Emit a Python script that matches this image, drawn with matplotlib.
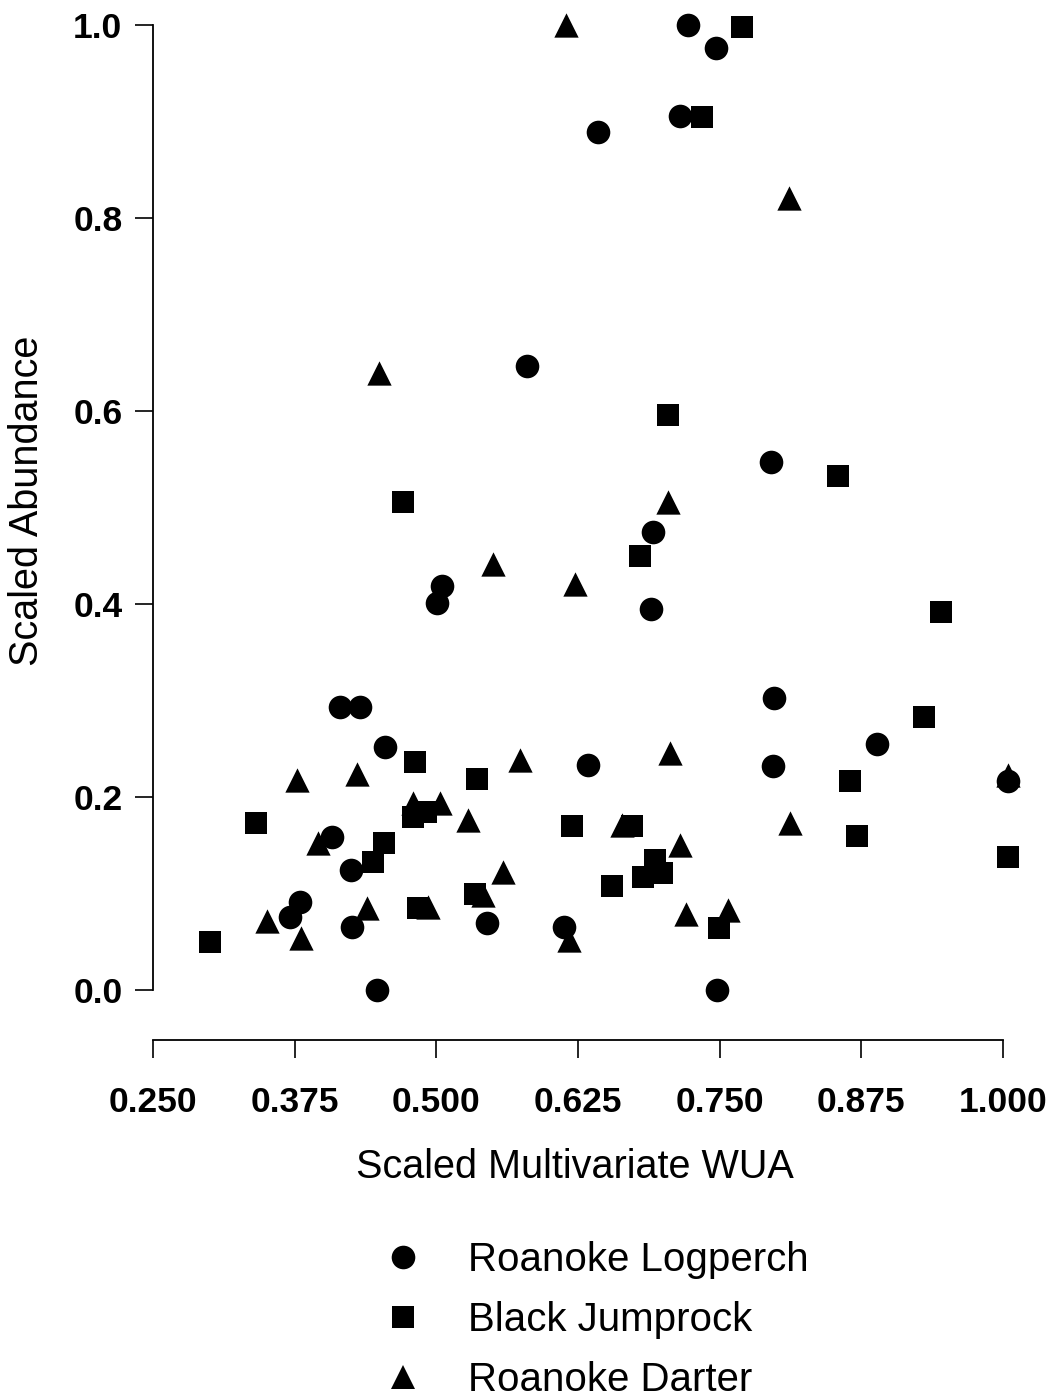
import matplotlib
matplotlib.use("Agg")
import matplotlib.pyplot as plt
from matplotlib.lines import Line2D

plt.rcParams['font.family'] = ['Liberation Sans', 'DejaVu Sans']

# Roanoke Logperch
logperch_x = [0.722, 0.747, 0.643, 0.715, 0.580, 0.795, 0.691, 0.689, 0.505, 0.501,
              0.415, 0.433, 0.455, 0.798, 0.797, 0.889, 0.634, 1.004, 0.408, 0.425,
              0.380, 0.371, 0.426, 0.545, 0.613, 0.448, 0.748]
logperch_y = [1.000, 0.976, 0.889, 0.906, 0.647, 0.547, 0.475, 0.395, 0.419, 0.401,
              0.293, 0.293, 0.252, 0.303, 0.232, 0.255, 0.233, 0.217, 0.159, 0.124,
              0.091, 0.076, 0.065, 0.069, 0.065, 0.000, 0.000]

# Black Jumprock
jumprock_x = [0.770, 0.734, 0.704, 0.854, 0.471, 0.680, 0.945, 0.930, 0.865, 0.871,
              1.004, 0.481, 0.536, 0.341, 0.620, 0.673, 0.454, 0.444, 0.479, 0.491,
              0.693, 0.682, 0.699, 0.655, 0.534, 0.484, 0.749, 0.300]
jumprock_y = [0.998, 0.905, 0.596, 0.533, 0.506, 0.450, 0.392, 0.283, 0.217, 0.160,
              0.138, 0.236, 0.219, 0.173, 0.170, 0.170, 0.152, 0.133, 0.179, 0.184,
              0.135, 0.117, 0.121, 0.108, 0.099, 0.085, 0.064, 0.050]

# Roanoke Darter
darter_x = [0.614, 0.811, 0.449, 0.704, 0.550, 0.622, 0.706, 0.574, 0.377, 0.430,
            1.004, 0.503, 0.479, 0.528, 0.664, 0.812, 0.715, 0.396, 0.559, 0.439,
            0.493, 0.351, 0.720, 0.757, 0.381, 0.617, 0.541]
darter_y = [1.000, 0.821, 0.639, 0.506, 0.441, 0.421, 0.246, 0.238, 0.218, 0.224,
            0.223, 0.194, 0.194, 0.176, 0.171, 0.173, 0.150, 0.152, 0.122, 0.085,
            0.086, 0.072, 0.079, 0.083, 0.054, 0.052, 0.098]

x_ticks = [0.250, 0.375, 0.500, 0.625, 0.750, 0.875, 1.000]
x_ticklabels = ["0.250", "0.375", "0.500", "0.625", "0.750", "0.875", "1.000"]
y_ticks = [0.0, 0.2, 0.4, 0.6, 0.8, 1.0]
y_ticklabels = ["0.0", "0.2", "0.4", "0.6", "0.8", "1.0"]

series_names = ["Roanoke Logperch", "Black Jumprock", "Roanoke Darter"]

W, H = 1057, 1399
fig = plt.figure(figsize=(W / 100, H / 100), dpi=100)
ax_left, ax_right = 153, 1048
ax_top, ax_bottom = 25, 990
ax = fig.add_axes([ax_left / W, 1 - ax_bottom / H, (ax_right - ax_left) / W, (ax_bottom - ax_top) / H])

ms_c, ms_s, ms_t = 17, 15.5, 17.5
ax.scatter(logperch_x, logperch_y, marker='o', s=ms_c ** 2, c='black', linewidths=0, clip_on=False, zorder=3)
ax.scatter(jumprock_x, jumprock_y, marker='s', s=ms_s ** 2, c='black', linewidths=0, clip_on=False, zorder=3)
ax.scatter(darter_x, darter_y, marker='^', s=ms_t ** 2, c='black', linewidths=0, clip_on=False, zorder=3)

ax.set_xlim(0.25, 0.25 + (ax_right - ax_left) / 1133.3)
ax.set_ylim(0.0, 1.0)

for s in ['top', 'right']:
    ax.spines[s].set_visible(False)
ax.spines['left'].set_bounds(0.0, 1.0)
ax.spines['bottom'].set_bounds(0.25, 1.0)
ax.spines['bottom'].set_position(('outward', 36))
for s in ['left', 'bottom']:
    ax.spines[s].set_linewidth(1.3)

ax.set_xticks(x_ticks)
ax.set_xticklabels(x_ticklabels)
ax.set_yticks(y_ticks)
ax.set_yticklabels(y_ticklabels)
ax.tick_params(axis='both', direction='out', length=13, width=1.2, labelsize=25.5)
ax.tick_params(axis='x', pad=20)
ax.tick_params(axis='y', pad=9)
for lab in ax.get_xticklabels() + ax.get_yticklabels():
    lab.set_fontweight('bold')

ax.set_xlabel("Scaled Multivariate WUA", fontsize=28.5, va='center')
ax.xaxis.set_label_coords((575 - ax_left) / (ax_right - ax_left), (ax_bottom - 1167) / (ax_bottom - ax_top))
ax.set_ylabel("Scaled Abundance", fontsize=28.5, va='center')
ax.yaxis.set_label_coords((27 - ax_left) / (ax_right - ax_left), (ax_bottom - 501) / (ax_bottom - ax_top))

handles = [
    Line2D([], [], marker='o', linestyle='none', color='black', markersize=ms_c, markeredgewidth=0),
    Line2D([], [], marker='s', linestyle='none', color='black', markersize=ms_s, markeredgewidth=0),
    Line2D([], [], marker='^', linestyle='none', color='black', markersize=ms_t, markeredgewidth=0),
]
fig.legend(handles, series_names, loc='center left', bbox_to_anchor=(383 / W, 1 - 1320 / H),
           frameon=False, fontsize=29, handlelength=1.0, handletextpad=1.1,
           borderpad=0, borderaxespad=0, labelspacing=0.55)

fig.savefig("out.png", dpi=100)
